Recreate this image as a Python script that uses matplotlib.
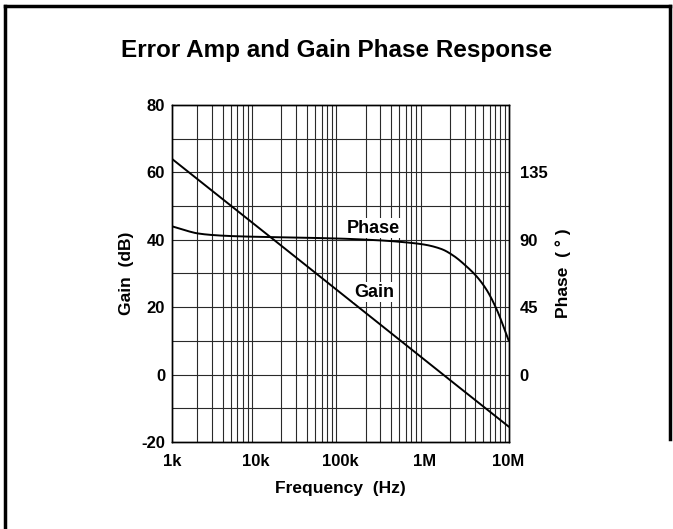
import numpy as np
import matplotlib.pyplot as plt
from matplotlib.lines import Line2D

plt.rcParams['font.family'] = ['Liberation Sans', 'DejaVu Sans']
plt.rcParams['font.weight'] = 'bold'
plt.rcParams['axes.unicode_minus'] = False

# gain curve (dB) vs frequency (Hz)
gain_freq = [1e3, 1e4, 1e5, 1e6, 1e7]
gain_db = [64, 44.2, 24.3, 4.4, -15.4]

# phase curve (deg) vs frequency (Hz)
phase_freq = [1e3, 1.5e3, 2e3, 3e3, 5e3, 1e4, 3e4, 1e5, 3e5, 6e5, 1e6,
              1.6e6, 2.2e6, 3.2e6, 4.2e6, 5.5e6, 7.3e6, 1e7]
phase_deg = [99, 96, 94.3, 93.2, 92.5, 92, 91.5, 90.8, 89.6, 88.3, 86.8,
             83.8, 79.5, 72, 65.4, 56.5, 43, 23]

x_ticks = [1e3, 1e4, 1e5, 1e6, 1e7]
x_labels = ['1k', '10k', '100k', '1M', '10M']
gain_ticks = [-20, 0, 20, 40, 60, 80]
phase_ticks = [0, 45, 90, 135]


def pchip(x, y, xn):
    """monotone cubic through the read-off points"""
    x = np.asarray(x, float)
    y = np.asarray(y, float)
    h = np.diff(x)
    d = np.diff(y) / h
    m = np.zeros_like(y)
    for k in range(1, len(x) - 1):
        if d[k - 1] * d[k] > 0:
            w1 = 2 * h[k] + h[k - 1]
            w2 = h[k] + 2 * h[k - 1]
            m[k] = (w1 + w2) / (w1 / d[k - 1] + w2 / d[k])
    m[0] = d[0]
    m[-1] = d[-1]
    idx = np.clip(np.searchsorted(x, xn) - 1, 0, len(x) - 2)
    t = (xn - x[idx]) / h[idx]
    h00 = 2 * t**3 - 3 * t**2 + 1
    h10 = t**3 - 2 * t**2 + t
    h01 = -2 * t**3 + 3 * t**2
    h11 = t**3 - t**2
    return (h00 * y[idx] + h10 * h[idx] * m[idx] + h01 * y[idx + 1]
            + h11 * h[idx] * m[idx + 1])


fig = plt.figure(figsize=(6.73, 5.29), dpi=100)
ax = fig.add_axes([0.2556, 0.1645, 0.5, 0.637])

lf = np.linspace(3, 7, 500)
f = 10 ** lf
g = np.interp(lf, np.log10(gain_freq), gain_db)
p = pchip(np.log10(phase_freq), phase_deg, lf)

ax.set_xscale('log')
ax.set_xlim(1e3, 1e7)
ax.set_ylim(-20, 80)

# grid: every 1..9 of each decade, every 10 dB
for dec in x_ticks[:-1]:
    for m in range(2, 10):
        ax.axvline(dec * m, color='#2a2a2a', lw=0.8, zorder=1)
for y in range(-10, 80, 10):
    ax.axhline(y, color='#2a2a2a', lw=0.8, zorder=1)

ax.plot(f, g, color='black', lw=1.4, zorder=3)

ax2 = ax.twinx()
ax2.set_ylim(-45, 180)
ax2.plot(f, p, color='black', lw=1.4, zorder=3)

ax.set_xticks(x_ticks)
ax.set_xticklabels(x_labels)
ax.minorticks_off()
ax.set_yticks(gain_ticks)
ax2.set_yticks(phase_ticks)
ax.tick_params(axis='x', length=0, labelsize=12, pad=9)
ax.tick_params(axis='y', length=0, labelsize=12, pad=5)
ax2.tick_params(length=0, labelsize=12, pad=8)
for a in (ax, ax2):
    for s in a.spines.values():
        s.set_linewidth(1.0)

ax.set_xlabel('Frequency  (Hz)', fontsize=12.5, fontweight='bold', labelpad=8)
ax.set_ylabel('Gain  (dB)', fontsize=12.5, fontweight='bold', labelpad=5)
ax2.set_ylabel('Phase  ( ° )', fontsize=12.5, fontweight='bold', labelpad=6)

ax.text(2.45e5, 43.5, 'Phase', fontsize=13, fontweight='bold', ha='center',
        va='center', zorder=4, bbox=dict(facecolor='white', edgecolor='none', pad=1))
ax.text(2.55e5, 24.5, 'Gain', fontsize=13, fontweight='bold', ha='center',
        va='center', zorder=4, bbox=dict(facecolor='white', edgecolor='none', pad=1))

fig.text(0.5, 0.905, 'Error Amp and Gain Phase Response', fontsize=17.5,
         fontweight='bold', ha='center', va='center')

# frame around the figure (left, top, right)
fig.add_artist(Line2D([0.0074, 0.0074], [0.0, 0.9887], color='black', lw=2.5,
                      transform=fig.transFigure))
fig.add_artist(Line2D([0.0074, 0.9955], [0.9887, 0.9887], color='black', lw=2.5,
                      transform=fig.transFigure))
fig.add_artist(Line2D([0.9955, 0.9955], [0.9887, 0.17], color='black', lw=2.5,
                      transform=fig.transFigure))

fig.savefig('out.png', dpi=100)
